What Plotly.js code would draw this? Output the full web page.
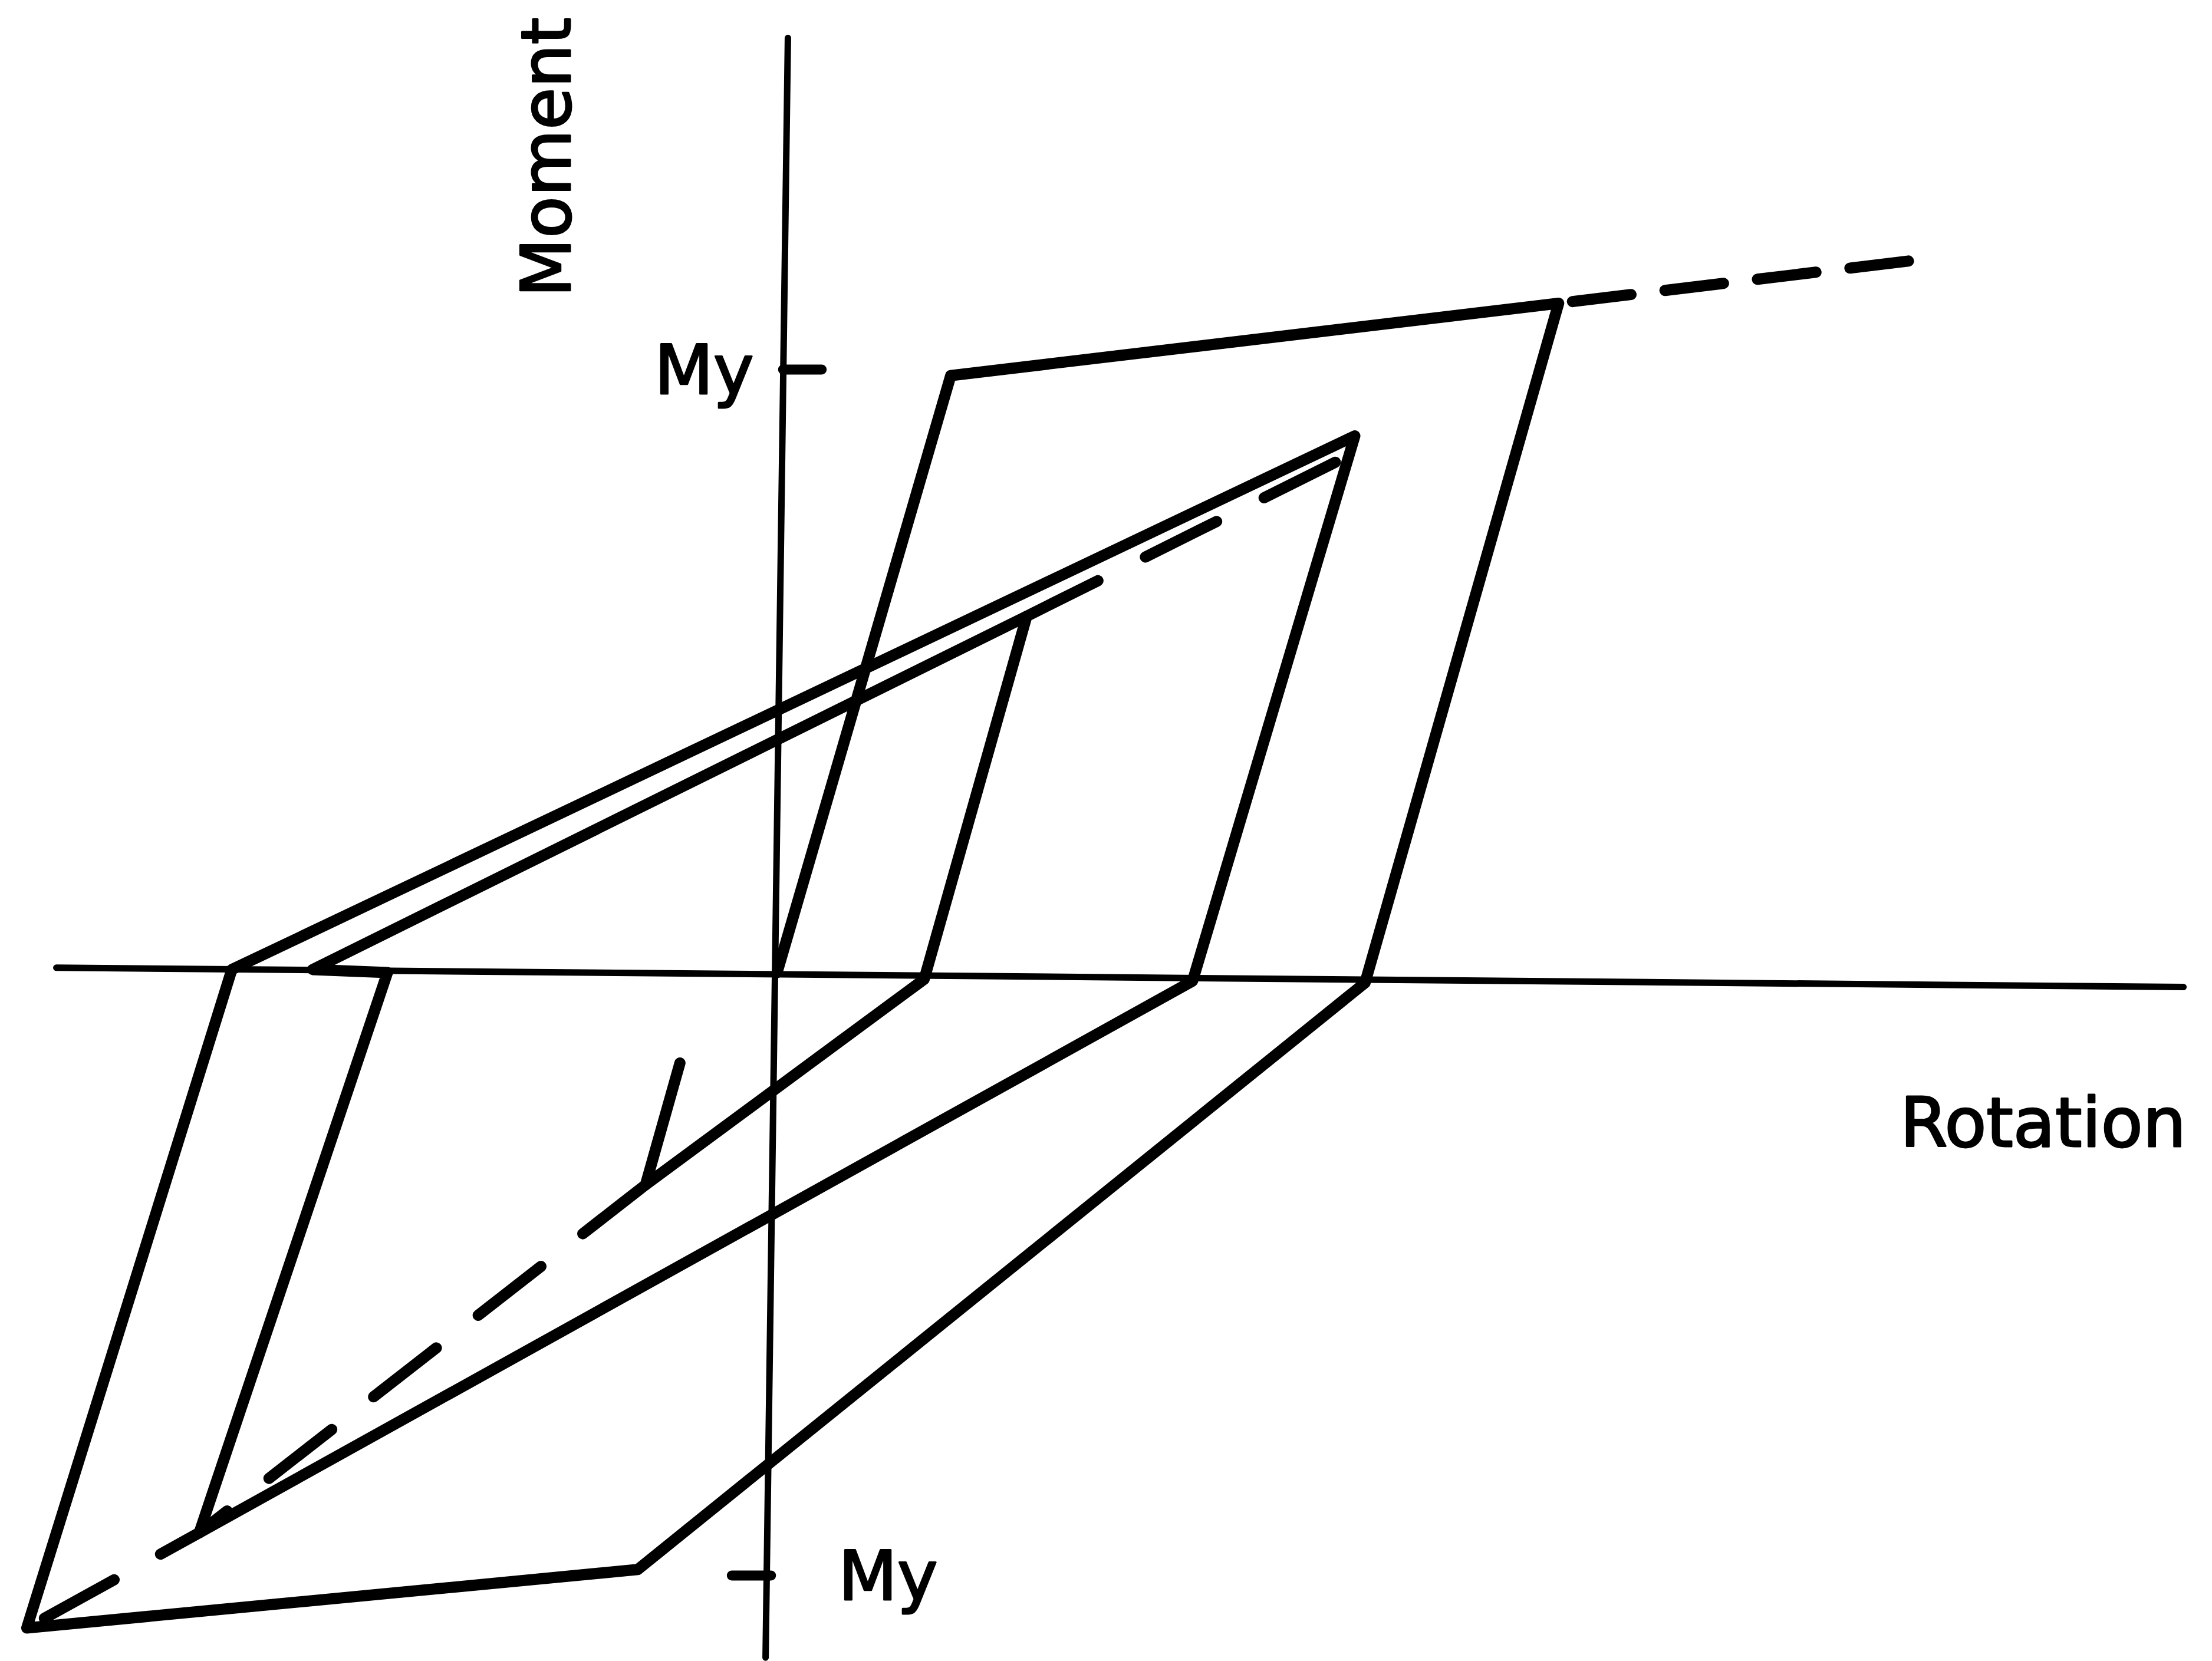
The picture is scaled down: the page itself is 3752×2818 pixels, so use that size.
<!DOCTYPE html>
<html>
<head>
<meta charset="utf-8">
<script src="https://cdn.plot.ly/plotly-3.0.1.min.js"></script>
<style>
  html, body { margin: 0; padding: 0; background: #ffffff; }
  #chart { width: 3752px; height: 2818px; }
  /* pen-like strokes: rounded joins and ends */
  #chart .scatterlayer path.js-line { stroke-linejoin: round; stroke-linecap: round; }
  /* slightly heavier lettering */
  #chart .annotation-text { stroke: #000000; stroke-width: 3px; stroke-linejoin: round; }
</style>
</head>
<body>
<div id="chart"></div>
<script>
// Moment–rotation hysteresis. Moment is expressed as M/My, rotation in the same drawing units.

// Loading path (solid): elastic loading, hardening, unloading and the successive reversals
const pathRot = [0.000, 0.288, 1.296, 0.975, -0.231, -1.244, -0.904, 0.958, 0.689, -0.958, -0.646, -0.770, 0.414, 0.244, -0.218, -0.161];
const pathMom = [0.000, 0.990, 1.110, -0.017, -0.990, -1.087, 0.005, 0.890, -0.014, -0.929, 0.000, 0.005, 0.591, -0.011, -0.352, -0.150];

// Monotonic envelope beyond the first peak (dashed), listed from its far end back to the peak
const envRot = [1.876, 1.296];
const envMom = [1.180, 1.110];

// Reloading towards the previous positive peak (dashed)
const aimPosRot = [0.414, 0.929];
const aimPosMom = [0.591, 0.848];

// Reloading towards the previous negative peaks (dashed)
const aimNegRot = [-0.218, -0.958, -1.244];
const aimNegMom = [-0.352, -0.929, -1.087];

// Reference axes as drawn
const rotAxisRot = [-1.195, 2.332];
const rotAxisMom = [0.008, -0.024];
const momAxisRot = [0.018, -0.019];
const momAxisMom = [1.550, -1.136];

// Yield moment ticks (+My, -My)
const tickLevels = [1.0, -1.0];
const tickRotSpans = [[0.010, 0.074], [-0.075, -0.010]];

// Axis titles and tick labels
const rotationLabel = 'Rotation';
const momentLabel = 'Moment';
const yieldLabel = 'My';

const ink = '#000000';
const curveWidth = 19;
const axisWidth = 11;
const envDash = '100px,58px';
const aimDash = '135px,90px';

const traces = [
  { x: rotAxisRot, y: rotAxisMom, mode: 'lines', line: { color: ink, width: axisWidth } },
  { x: momAxisRot, y: momAxisMom, mode: 'lines', line: { color: ink, width: axisWidth } },
  { x: tickRotSpans[0], y: [tickLevels[0], tickLevels[0]], mode: 'lines', line: { color: ink, width: 17 } },
  { x: tickRotSpans[1], y: [tickLevels[1], tickLevels[1]], mode: 'lines', line: { color: ink, width: 17 } },
  { x: pathRot, y: pathMom, mode: 'lines', line: { color: ink, width: curveWidth } },
  { x: envRot, y: envMom, mode: 'lines', line: { color: ink, width: curveWidth, dash: envDash } },
  { x: aimPosRot, y: aimPosMom, mode: 'lines', line: { color: ink, width: curveWidth, dash: aimDash } },
  { x: aimNegRot, y: aimNegMom, mode: 'lines', line: { color: ink, width: curveWidth, dash: aimDash } }
];

const labelFont = { family: 'DejaVu Sans, sans-serif', size: 116, color: ink };

const layout = {
  width: 3752,
  height: 2818,
  margin: { l: 0, r: 0, t: 0, b: 0, pad: 0 },
  paper_bgcolor: '#ffffff',
  plot_bgcolor: '#ffffff',
  showlegend: false,
  xaxis: { range: [-1.2884, 2.3793], visible: false, fixedrange: true },
  yaxis: { range: [-1.1417, 1.6129], visible: false, fixedrange: true },
  annotations: [
    { x: 1.860, y: -0.249, text: rotationLabel, showarrow: false, xanchor: 'left', yanchor: 'middle', font: labelFont },
    { x: -0.382, y: 1.352, text: momentLabel, textangle: -90, showarrow: false, xanchor: 'center', yanchor: 'middle', font: labelFont },
    { x: -0.036, y: tickLevels[0], text: yieldLabel, showarrow: false, xanchor: 'right', yanchor: 'middle', font: labelFont },
    { x: 0.0997, y: tickLevels[1], text: yieldLabel, showarrow: false, xanchor: 'left', yanchor: 'middle', font: labelFont }
  ]
};

Plotly.newPlot('chart', traces, layout, { staticPlot: true, displayModeBar: false });
</script>
</body>
</html>
